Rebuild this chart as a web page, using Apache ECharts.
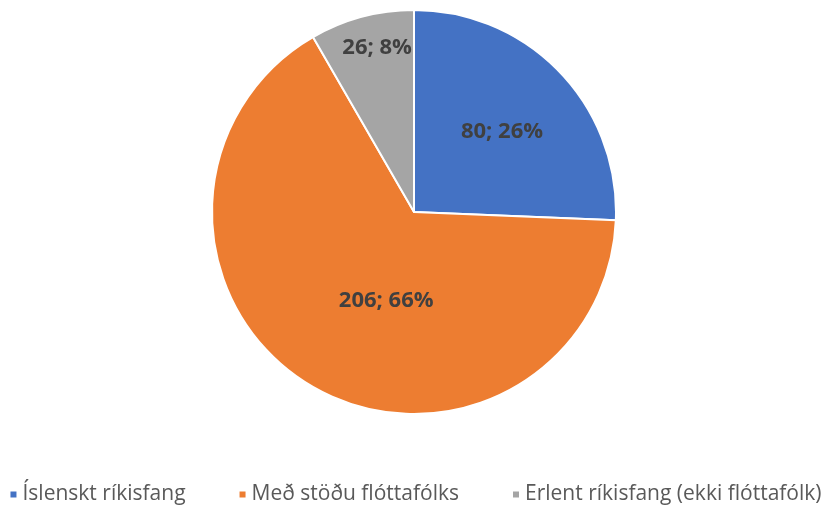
<!DOCTYPE html>
<html>
<head>
<meta charset="utf-8">
<script src="https://cdn.jsdelivr.net/npm/echarts@6/dist/echarts.min.js"></script>
<style>
  html, body { margin: 0; padding: 0; background: #fff; }
  #main { width: 830px; height: 513px; }
</style>
</head>
<body>
<div id="main"></div>
<script>
// data
var categories = ['Íslenskt ríkisfang', 'Með stöðu flóttafólks', 'Erlent ríkisfang (ekki flóttafólk)'];
var values = [80, 206, 26];
var colors = ['#4472C4', '#ED7D31', '#A5A5A5'];
// label nudges (best-fit placement like the original)
var labelShift = [[13, -8], [26, 0], [-10, -64]];

var total = values.reduce(function (a, b) { return a + b; }, 0);

var chartDom = document.getElementById('main');
var myChart = echarts.init(chartDom);

var option = {
  animation: false,
  color: colors,
  legend: {
    bottom: 3,
    left: 'center',
    icon: 'rect',
    itemWidth: 8,
    itemHeight: 8,
    itemGap: 52,
    textStyle: {
      fontFamily: 'Open Sans',
      fontSize: 21,
      color: '#595959'
    },
    data: categories
  },
  series: [
    {
      type: 'pie',
      center: [414, 212],
      radius: 202,
      startAngle: 90,
      clockwise: true,
      itemStyle: {
        borderColor: '#fff',
        borderWidth: 2
      },
      label: {
        show: true,
        position: 'inside',
        fontFamily: 'Open Sans',
        fontWeight: 'bold',
        fontSize: 22,
        color: '#404040',
        formatter: function (p) {
          return p.value + '; ' + Math.round(p.value / total * 100) + '%';
        }
      },
      labelLayout: function (p) {
        var s = labelShift[p.dataIndex];
        return { dx: s[0], dy: s[1] };
      },
      emphasis: { disabled: true },
      data: categories.map(function (c, i) {
        return { name: c, value: values[i] };
      })
    }
  ]
};

option && myChart.setOption(option);
</script>
</body>
</html>
